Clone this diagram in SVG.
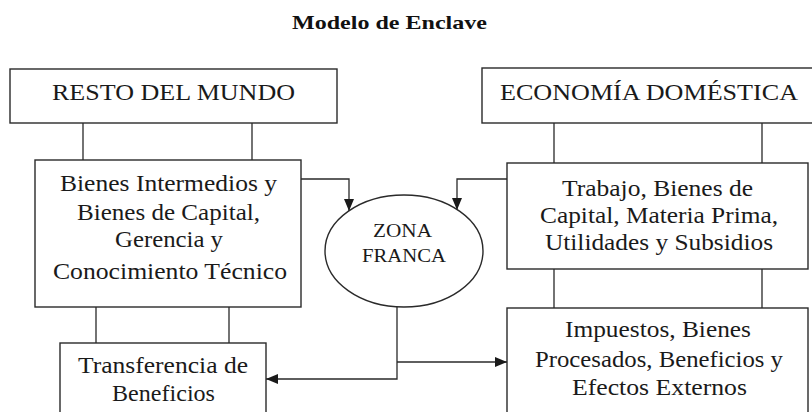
<svg xmlns="http://www.w3.org/2000/svg" width="812" height="412" viewBox="0 0 812 412">
<defs>
<marker id="arr" viewBox="0 0 12 10" markerUnits="userSpaceOnUse" markerWidth="12" markerHeight="10" refX="12" refY="5" orient="auto">
<path d="M0,0 L12,5 L0,10 z" fill="#1a1a1a"/>
</marker>
</defs>
<style>
.box{fill:#fff;stroke:#2a2a2a;stroke-width:1.4}
.ln{fill:none;stroke:#2a2a2a;stroke-width:1.3}
.t{font-family:"Liberation Serif","Times New Roman",serif;font-size:23px;fill:#1a1a1a;text-anchor:middle}
.z{font-family:"Liberation Serif","Times New Roman",serif;font-size:19px;fill:#1a1a1a;text-anchor:middle}
.title{font-family:"Liberation Serif","Times New Roman",serif;font-size:19px;font-weight:bold;fill:#111;text-anchor:middle}
</style>
<rect width="812" height="412" fill="#fff"/>
<text class="title" x="389.5" y="29" textLength="195" lengthAdjust="spacingAndGlyphs">Modelo de Enclave</text>

<g id="connectors">
<path class="ln" d="M83,123 V160 M252,123 V160 M96,307 V343 M229,307 V343 M554,123 V163 M762,123 V163 M554,269 V308 M762,269 V308"/>
<path class="ln" d="M301,179 H349 V211" marker-end="url(#arr)"/>
<path class="ln" d="M507,179 H457 V210" marker-end="url(#arr)"/>
<path class="ln" d="M397,307 V379 H266" marker-end="url(#arr)"/>
<path class="ln" d="M397,362 H507" marker-end="url(#arr)"/>
</g>

<g id="resto">
<rect class="box" x="10" y="69" width="327" height="54"/>
<text class="t" x="173.5" y="100" textLength="243" lengthAdjust="spacingAndGlyphs">RESTO DEL MUNDO</text>
</g>
<g id="bienes">
<rect class="box" x="35" y="160" width="266" height="147"/>
<text class="t" x="168.5" y="191" textLength="217" lengthAdjust="spacingAndGlyphs">Bienes Intermedios y</text>
<text class="t" x="168.5" y="220" textLength="183" lengthAdjust="spacingAndGlyphs">Bienes de Capital,</text>
<text class="t" x="169" y="247" textLength="108" lengthAdjust="spacingAndGlyphs">Gerencia y</text>
<text class="t" x="170" y="279" textLength="234" lengthAdjust="spacingAndGlyphs">Conocimiento Técnico</text>
</g>
<g id="transferencia">
<rect class="box" x="60" y="343" width="206" height="80"/>
<text class="t" x="163" y="373" textLength="170" lengthAdjust="spacingAndGlyphs">Transferencia de</text>
<text class="t" x="163.5" y="401" textLength="103" lengthAdjust="spacingAndGlyphs">Beneficios</text>
</g>
<g id="zona">
<ellipse cx="404" cy="251" rx="79" ry="56" fill="#fff" stroke="#2a2a2a" stroke-width="1.4"/>
<text class="z" x="402.5" y="237" textLength="59" lengthAdjust="spacingAndGlyphs">ZONA</text>
<text class="z" x="404" y="262" textLength="84" lengthAdjust="spacingAndGlyphs">FRANCA</text>
</g>
<g id="economia">
<rect class="box" x="482" y="68" width="334" height="55"/>
<text class="t" x="649" y="100" textLength="298" lengthAdjust="spacingAndGlyphs">ECONOMÍA DOMÉSTICA</text>
</g>
<g id="trabajo">
<rect class="box" x="507" y="163" width="301" height="106"/>
<text class="t" x="657.5" y="196" textLength="191" lengthAdjust="spacingAndGlyphs">Trabajo, Bienes de</text>
<text class="t" x="659" y="223" textLength="238" lengthAdjust="spacingAndGlyphs">Capital, Materia Prima,</text>
<text class="t" x="659" y="250" textLength="228" lengthAdjust="spacingAndGlyphs">Utilidades y Subsidios</text>
</g>
<g id="impuestos">
<rect class="box" x="507" y="308" width="301" height="120"/>
<text class="t" x="658" y="337" textLength="186" lengthAdjust="spacingAndGlyphs">Impuestos, Bienes</text>
<text class="t" x="659" y="367" textLength="248" lengthAdjust="spacingAndGlyphs">Procesados, Beneficios y</text>
<text class="t" x="659.5" y="395" textLength="175" lengthAdjust="spacingAndGlyphs">Efectos Externos</text>
</g>
</svg>
